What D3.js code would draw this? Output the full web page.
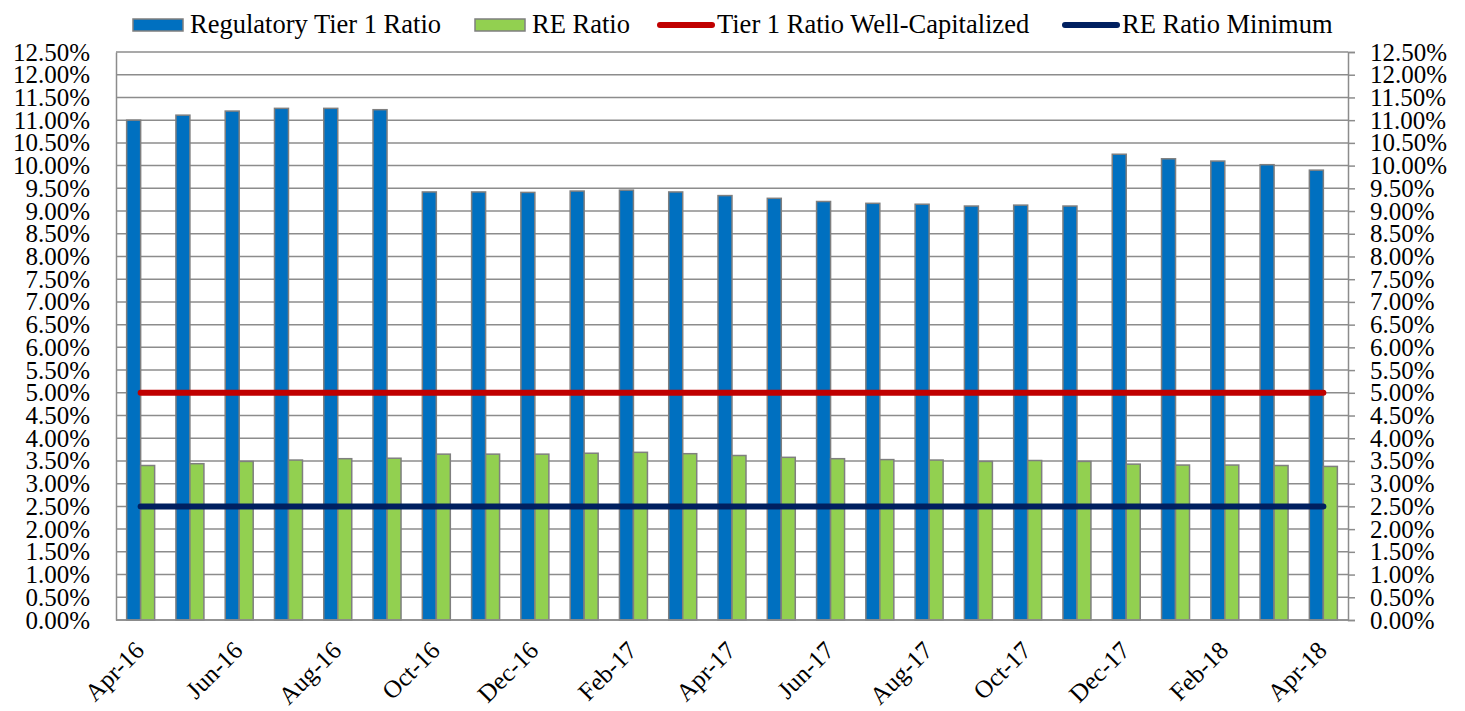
<!DOCTYPE html>
<html>
<head>
<meta charset="utf-8">
<script src="https://cdn.jsdelivr.net/npm/d3@7"></script>
<style>
  body { margin: 0; background: #fff; }
  svg text { font-family: "Liberation Serif", Tinos, "DejaVu Serif", "Times New Roman", serif; fill: #000; }
</style>
</head>
<body>
<script>
// data (percent)
var months = ["Apr-16","May-16","Jun-16","Jul-16","Aug-16","Sep-16","Oct-16","Nov-16","Dec-16",
    "Jan-17","Feb-17","Mar-17","Apr-17","May-17","Jun-17","Jul-17","Aug-17","Sep-17","Oct-17",
    "Nov-17","Dec-17","Jan-18","Feb-18","Mar-18","Apr-18"];
var tier1Ratio = [11.00, 11.11, 11.20, 11.26, 11.26, 11.23, 9.42, 9.42, 9.41, 9.44, 9.46, 9.42, 9.34,
    9.28, 9.21, 9.17, 9.15, 9.11, 9.13, 9.11, 10.25, 10.15, 10.10, 10.02, 9.90];
var reRatio = [3.40, 3.44, 3.49, 3.52, 3.55, 3.56, 3.65, 3.65, 3.65, 3.67, 3.69, 3.66, 3.62,
    3.58, 3.55, 3.53, 3.52, 3.49, 3.51, 3.49, 3.43, 3.41, 3.41, 3.40, 3.38];
var tier1WellCap = 5.0;
var reMinimum = 2.5;
var yTicks = d3.range(0, 12.51, 0.5);
var seriesNames = ["Regulatory Tier 1 Ratio", "RE Ratio", "Tier 1 Ratio Well-Capitalized", "RE Ratio Minimum"];
var colors = ["#0070C0", "#92D050", "#C00000", "#002060"];

function main(){
    var svg = d3.select("body").append("svg")
        .attr("width", 1465)
        .attr("height", 711);

    var left = 116, right = 1348, top = 52, bottom = 620;
    var serif = "Liberation Serif, Tinos, DejaVu Serif, serif";

    var x = d3.scaleBand().domain(months).range([left, right])
        .paddingInner(0.432).paddingOuter(0.216);
    var xSub = d3.scaleBand().domain([0, 1]).range([0, x.bandwidth()]);
    var y = d3.scaleLinear().domain([0, 12.5]).range([bottom, top]);

    // gridlines
    svg.append("g").selectAll("line")
        .data(yTicks).enter().append("line")
        .attr("x1", left).attr("x2", right)
        .attr("y1", d => y(d)).attr("y2", d => y(d))
        .attr("stroke", "#8c8c8c").attr("stroke-width", 1.5);

    // left axis
    var fmt = d => d.toFixed(2) + "%";
    var gl = svg.append("g")
        .attr("transform", "translate(" + left + ",0)")
        .call(d3.axisLeft(y).tickValues(yTicks).tickFormat(fmt).tickSize(0).tickPadding(26))
        .attr("font-family", serif);
    gl.select(".domain").attr("stroke", "#8c8c8c").attr("stroke-width", 1.5);
    gl.selectAll("text").attr("font-size", "25px");

    // right axis
    var gr = svg.append("g")
        .attr("transform", "translate(" + right + ",0)")
        .call(d3.axisRight(y).tickValues(yTicks).tickFormat(fmt).tickSize(7).tickPadding(15))
        .attr("font-family", serif);
    gr.select(".domain").attr("stroke", "#8c8c8c").attr("stroke-width", 1.5);
    gr.selectAll("line").attr("stroke", "#8c8c8c").attr("stroke-width", 1.5);
    gr.selectAll("text").attr("font-size", "25px");

    // bars
    var groups = svg.append("g").selectAll("g")
        .data(months).enter().append("g")
        .attr("transform", d => "translate(" + x(d) + ",0)");
    groups.append("rect")
        .attr("x", xSub(0)).attr("width", xSub.bandwidth())
        .attr("y", (d, i) => y(tier1Ratio[i]))
        .attr("height", (d, i) => y(0) - y(tier1Ratio[i]))
        .attr("fill", colors[0]).attr("stroke", "#7f7f7f").attr("stroke-width", 1.5);
    groups.append("rect")
        .attr("x", xSub(1)).attr("width", xSub.bandwidth())
        .attr("y", (d, i) => y(reRatio[i]))
        .attr("height", (d, i) => y(0) - y(reRatio[i]))
        .attr("fill", colors[1]).attr("stroke", "#7f7f7f").attr("stroke-width", 1.5);

    // bottom axis line
    svg.append("line")
        .attr("x1", left).attr("x2", right)
        .attr("y1", y(0)).attr("y2", y(0))
        .attr("stroke", "#8c8c8c").attr("stroke-width", 1.5);

    // reference lines
    var cx = d => x(d) + x.bandwidth() / 2;
    [tier1WellCap, reMinimum].forEach(function(v, k){
        svg.append("path")
            .datum(months)
            .attr("d", d3.line().x(cx).y(() => y(v)))
            .attr("fill", "none")
            .attr("stroke", colors[2 + k])
            .attr("stroke-width", 6)
            .attr("stroke-linecap", "round");
    });

    // x labels every other month
    svg.append("g").selectAll("text")
        .data(months.filter((d, i) => i % 2 === 0)).enter().append("text")
        .attr("transform", d => "translate(" + (cx(d) + 5) + ",652) rotate(-45)")
        .attr("text-anchor", "end")
        .attr("font-size", "25px")
        .text(d => d);

    // legend
    var legend = svg.append("g");
    var lx = [133, 475, 657, 1062];
    seriesNames.forEach(function(name, i){
        if (i < 2) {
            legend.append("rect")
                .attr("x", lx[i]).attr("y", 19).attr("width", 50).attr("height", 12)
                .attr("fill", colors[i]).attr("stroke", "#7f7f7f").attr("stroke-width", 1.5);
        } else {
            legend.append("line")
                .attr("x1", lx[i] + 3).attr("x2", lx[i] + 55)
                .attr("y1", 25).attr("y2", 25)
                .attr("stroke", colors[i]).attr("stroke-width", 6)
                .attr("stroke-linecap", "round");
        }
        legend.append("text")
            .attr("x", lx[i] + (i < 2 ? 57 : 60))
            .attr("y", 33)
            .attr("font-size", "26.5px")
            .text(name);
    });
}
main();
</script>
</body>
</html>
